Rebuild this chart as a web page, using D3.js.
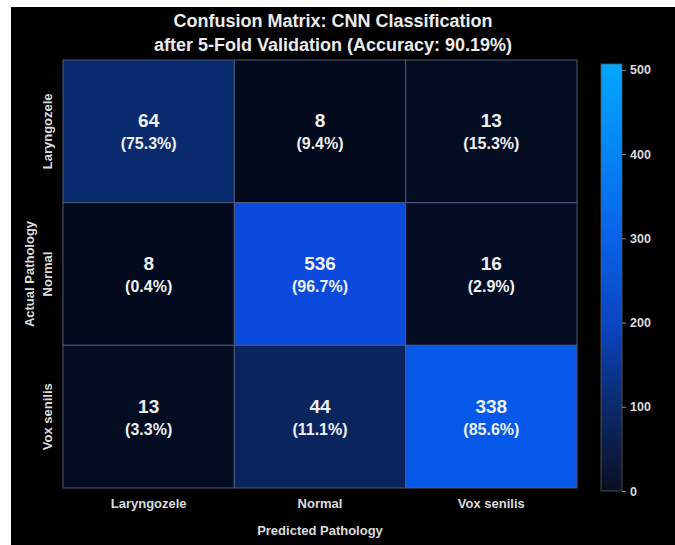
<!DOCTYPE html>
<html>
<head>
<meta charset="utf-8">
<script src="https://cdn.jsdelivr.net/npm/d3@7"></script>
<style>
  html, body { margin: 0; padding: 0; background: #ffffff; }
  svg { display: block; }
  text { font-family: "Liberation Sans", Arial, sans-serif; font-weight: bold; }
</style>
</head>
<body>
<svg id="chart" width="675" height="545"></svg>
<script>
// Class labels (rows = actual, columns = predicted)
const classes = ["Laryngozele", "Normal", "Vox senilis"];

// Confusion-matrix counts, one array per actual class
const rowLaryngozele = [64, 8, 13];
const rowNormal = [8, 536, 16];
const rowVoxSenilis = [13, 44, 338];

// Row-wise percentages shown under the counts
const pctLaryngozele = [75.3, 9.4, 15.3];
const pctNormal = [0.4, 96.7, 2.9];
const pctVoxSenilis = [3.3, 11.1, 85.6];

// Colour-bar ticks
const colorbarTicks = [0, 100, 200, 300, 400, 500];

const titleLines = ["Confusion Matrix: CNN Classification",
                    "after 5-Fold Validation (Accuracy: 90.19%)"];

const counts = [rowLaryngozele, rowNormal, rowVoxSenilis];
const pcts = [pctLaryngozele, pctNormal, pctVoxSenilis];

const cells = [];
counts.forEach((row, r) => row.forEach((v, c) => {
  cells.push({ actual: classes[r], predicted: classes[c], value: v, pct: pcts[r][c] });
}));

const svg = d3.select("#chart");

// dark canvas
svg.append("rect").attr("x", 11).attr("y", 7).attr("width", 664).attr("height", 538)
  .attr("fill", "#000000");

const plot = { left: 63, right: 577, top: 60, bottom: 488 };

const x = d3.scaleBand().domain(classes).range([plot.left, plot.right]).padding(0);
const y = d3.scaleBand().domain(classes).range([plot.top, plot.bottom]).padding(0);

// fill colour for the matrix cells
const cellColor = d3.scaleLinear()
  .domain([0, 10, 20, 44, 64, 338, 536])
  .range(["#030816", "#040b1f", "#050e27", "#0a245e", "#092a6e", "#0659e8", "#0c4ade"])
  .clamp(true);

// colour-bar gradient
const barScale = d3.scaleLinear()
  .domain([0, 100, 200, 300, 400, 507])
  .range(["#0a0f22", "#0c2a6a", "#0a45c4", "#0962e8", "#0584f4", "#00a8ff"]);

// cells
svg.append("g").selectAll("rect").data(cells).join("rect")
  .attr("x", d => x(d.predicted))
  .attr("y", d => y(d.actual))
  .attr("width", x.bandwidth())
  .attr("height", y.bandwidth())
  .attr("fill", d => cellColor(d.value))
  .attr("stroke", "#4c5a78")
  .attr("stroke-width", 1);

// annotations
const ann = svg.append("g").attr("fill", "#eef0f4").attr("text-anchor", "middle");
ann.selectAll("text.val").data(cells).join("text").attr("class", "val")
  .attr("x", d => x(d.predicted) + x.bandwidth() / 2)
  .attr("y", d => y(d.actual) + y.bandwidth() / 2 - 4)
  .attr("font-size", 19)
  .text(d => d.value);
ann.selectAll("text.pct").data(cells).join("text").attr("class", "pct")
  .attr("x", d => x(d.predicted) + x.bandwidth() / 2)
  .attr("y", d => y(d.actual) + y.bandwidth() / 2 + 18)
  .attr("font-size", 16)
  .text(d => `(${d.pct.toFixed(1)}%)`);

// x tick labels
svg.append("g").selectAll("text").data(classes).join("text")
  .attr("x", d => x(d) + x.bandwidth() / 2)
  .attr("y", plot.bottom + 20)
  .attr("text-anchor", "middle").attr("fill", "#dcdcdc").attr("font-size", 13)
  .text(d => d);

// y tick labels (rotated)
svg.append("g").selectAll("text").data(classes).join("text")
  .attr("transform", d => `translate(52,${y(d) + y.bandwidth() / 2}) rotate(-90)`)
  .attr("text-anchor", "middle").attr("fill", "#dcdcdc").attr("font-size", 13)
  .text(d => d);

// axis titles
svg.append("text").attr("x", (plot.left + plot.right) / 2).attr("y", 535)
  .attr("text-anchor", "middle").attr("fill", "#dcdcdc").attr("font-size", 13)
  .text("Predicted Pathology");
svg.append("text")
  .attr("transform", `translate(34,${(plot.top + plot.bottom) / 2}) rotate(-90)`)
  .attr("text-anchor", "middle").attr("fill", "#dcdcdc").attr("font-size", 13)
  .text("Actual Pathology");

// title
svg.append("g").selectAll("text").data(titleLines).join("text")
  .attr("x", 333).attr("y", (d, i) => 27 + i * 24)
  .attr("text-anchor", "middle").attr("fill", "#ececec").attr("font-size", 18)
  .text(d => d);

// colour bar
const cb = { x: 601, w: 21, top: 64, bottom: 491 };
const cbY = d3.scaleLinear().domain([0, 507]).range([cb.bottom, cb.top]);

const defs = svg.append("defs");
const grad = defs.append("linearGradient").attr("id", "cbGrad")
  .attr("x1", 0).attr("y1", 1).attr("x2", 0).attr("y2", 0);
grad.selectAll("stop").data(d3.range(0, 1.0001, 0.05)).join("stop")
  .attr("offset", d => d)
  .attr("stop-color", d => barScale(d * 507));

svg.append("rect").attr("x", cb.x).attr("y", cb.top)
  .attr("width", cb.w).attr("height", cb.bottom - cb.top)
  .attr("fill", "url(#cbGrad)")
  .attr("stroke", "#5a5a5a").attr("stroke-width", 0.8);

const cbAxis = svg.append("g")
  .attr("transform", `translate(${cb.x + cb.w},0)`)
  .call(d3.axisRight(cbY).tickValues(colorbarTicks).tickSize(4).tickPadding(4));
cbAxis.select(".domain").remove();
cbAxis.selectAll(".tick line").attr("stroke", "#8a8a8a");
cbAxis.selectAll(".tick text").attr("fill", "#dcdcdc").attr("font-size", 12.5)
  .attr("font-family", "'Liberation Sans', Arial, sans-serif").attr("font-weight", "bold");
</script>
</body>
</html>
